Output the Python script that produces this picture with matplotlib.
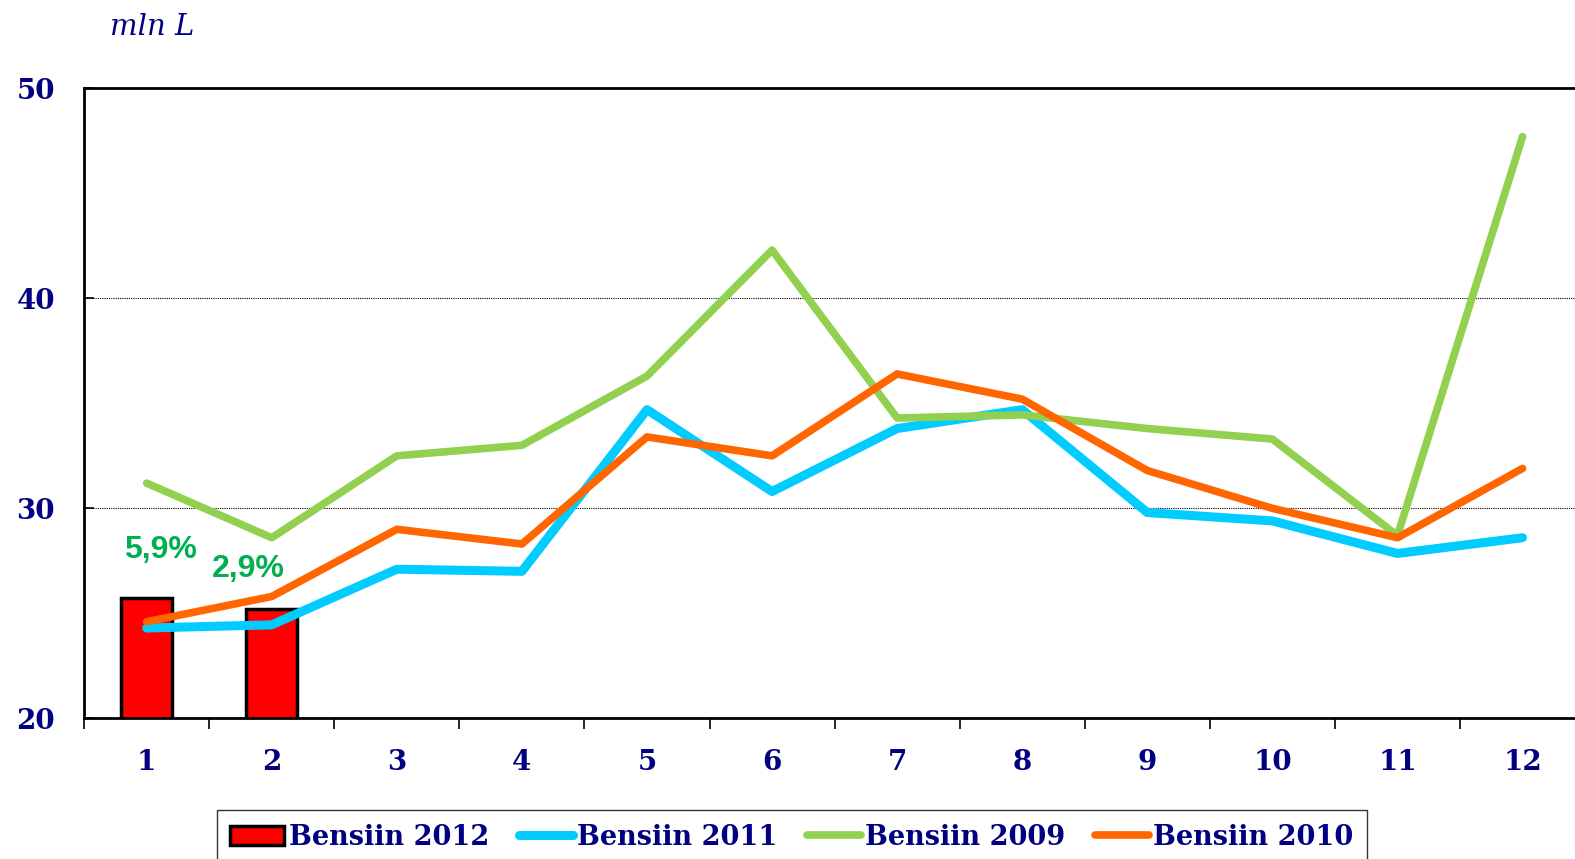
import matplotlib

matplotlib.use("Agg")
import matplotlib.pyplot as plt
from matplotlib.patches import Patch
from matplotlib.lines import Line2D
from matplotlib.ticker import FixedLocator

NAVY = "#000080"

months = list(range(1, 13))
month_labels = [str(m) for m in months]

bensiin_2012 = [25.75, 25.2]
bensiin_2011 = [24.3, 24.45, 27.1, 27.0, 34.7, 30.8, 33.8, 34.7, 29.8, 29.4, 27.85, 28.6]
bensiin_2009 = [31.2, 28.6, 32.5, 33.0, 36.3, 42.3, 34.3, 34.45, 33.8, 33.3, 28.7, 47.7]
bensiin_2010 = [24.6, 25.8, 29.0, 28.3, 33.4, 32.5, 36.4, 35.2, 31.8, 30.0, 28.6, 31.9]

growth_labels = ["5,9%", "2,9%"]
growth_x = [1.11, 1.81]
growth_y = [28.0, 27.1]

yticks = [20, 30, 40, 50]

fig = plt.figure(figsize=(15.75, 8.59), dpi=100)
ax = fig.add_axes([0.0534, 0.1638, 0.953, 0.7333])

ax.bar(months[:2], bensiin_2012, width=0.41, bottom=0, color="#FF0000",
       edgecolor="black", linewidth=2.5, zorder=2)
line_kw = dict(solid_capstyle="round", solid_joinstyle="round", zorder=3)
ax.plot(months, bensiin_2011, color="#00CCFF", lw=6.5, **line_kw)
ax.plot(months, bensiin_2009, color="#92D050", lw=5.5, **line_kw)
ax.plot(months, bensiin_2010, color="#FF6600", lw=5.5, **line_kw)

for lab, x, y in zip(growth_labels, growth_x, growth_y):
    ax.text(x, y, lab, color="#00B050", fontsize=23, fontweight="bold",
            family="Liberation Sans", ha="center", va="center", zorder=4)

ax.set_xlim(0.5, 12.5)
ax.set_ylim(20, 50)
ax.set_yticks(yticks)
ax.set_yticklabels([str(v) for v in yticks])
ax.set_xticks(months)
ax.set_xticklabels(month_labels)
ax.xaxis.set_minor_locator(FixedLocator([m + 0.5 for m in range(0, 13)]))
ax.tick_params(axis="x", which="major", length=0, pad=22)
ax.tick_params(axis="x", which="minor", direction="out", length=8, width=1.2)
ax.tick_params(axis="y", direction="in", length=7, width=1.2, pad=21)
for lab in ax.get_xticklabels() + ax.get_yticklabels():
    lab.set_family("DejaVu Serif")
    lab.set_fontweight("bold")
    lab.set_fontsize(20)
    lab.set_color(NAVY)

for y in [30, 40]:
    ax.axhline(y, color="black", lw=0.8, ls=(0, (1, 1)), zorder=1)

for side in ["left", "bottom", "top"]:
    ax.spines[side].set_linewidth(2)
ax.spines["right"].set_visible(False)

fig.text(110 / 1575, 1 - 27 / 859, "mln L", color=NAVY, fontsize=21,
         style="italic", family="DejaVu Serif", ha="left", va="center")

handles = [
    Patch(facecolor="#FF0000", edgecolor="black", linewidth=2.5),
    Line2D([], [], color="#00CCFF", lw=6.5, solid_capstyle="round"),
    Line2D([], [], color="#92D050", lw=5.5, solid_capstyle="round"),
    Line2D([], [], color="#FF6600", lw=5.5, solid_capstyle="round"),
]
names = ["Bensiin 2012", "Bensiin 2011", "Bensiin 2009", "Bensiin 2010"]
leg = fig.legend(handles, names, loc="upper center", ncol=4,
                 bbox_to_anchor=(792 / 1575, 1 - 810 / 859),
                 prop={"family": "DejaVu Serif", "weight": "bold", "size": 19.5},
                 frameon=True, fancybox=False, edgecolor="black",
                 handlelength=2.0, handletextpad=0.15, columnspacing=1.1,
                 borderpad=0.5, borderaxespad=0)
leg.get_frame().set_linewidth(1)
for t in leg.get_texts():
    t.set_color(NAVY)

fig.savefig("out.png", dpi=100)
